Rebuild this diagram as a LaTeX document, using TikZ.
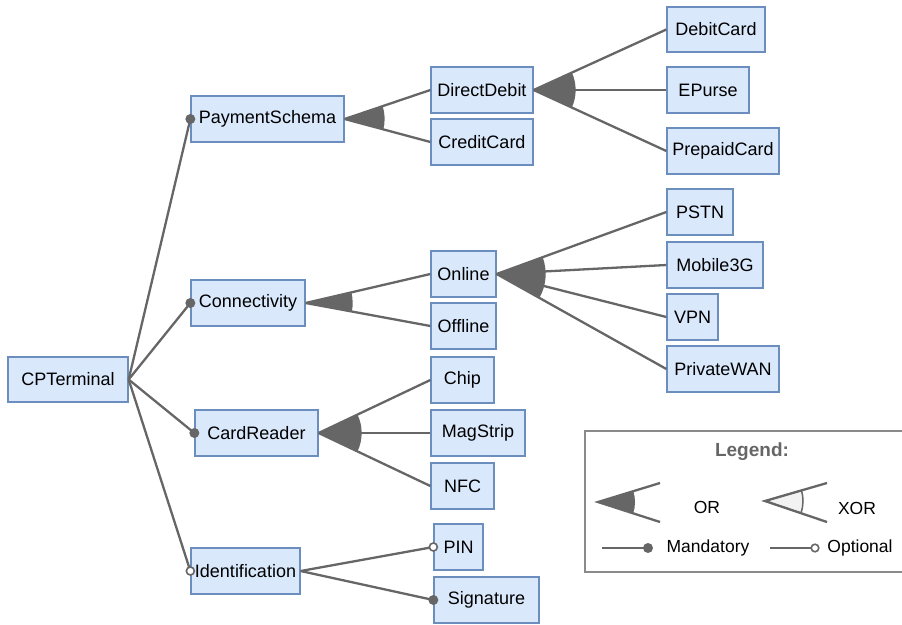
\documentclass[tikz,border=0pt]{standalone}
\usepackage{fontspec}
\setmainfont{Liberation Sans}
\usetikzlibrary{calc}
\definecolor{featfill}{HTML}{DAE8FC}
\definecolor{featline}{HTML}{6C8EBF}
\definecolor{linegray}{HTML}{666666}
\definecolor{legendline}{HTML}{8A8A8A}
\definecolor{xorfill}{HTML}{F2F2F2}

% filled OR sector between the edges towards two child nodes
\newcommand\orsector[4]{%
  \fill[linegray] let \p1=(#1), \p2=(#2), \p3=(#3),
    \n1={atan2(\y2-\y1,\x2-\x1)}, \n2={atan2(\y3-\y1,\x3-\x1)} in
    (\p1) -- ++(\n1:#4) arc[start angle=\n1, end angle=\n2, radius=#4] -- cycle;}

\begin{document}
\begin{tikzpicture}[x=1pt,y=-1pt,
  feat/.style={draw=featline, fill=featfill, line width=1.3pt, inner sep=0pt,
    minimum height=46pt, font=\fontsize{18}{20}\selectfont, text=black},
  conn/.style={draw=linegray, line width=2.3pt},
  mand/.style={fill=linegray},
  opt/.style={draw=linegray, fill=white, line width=1.6pt},
  lbl/.style={font=\fontsize{17.5}{20}\selectfont, text=black, inner sep=0pt}]
\useasboundingbox (0,0) rectangle (902,624);

% features
\node[feat, minimum width=120pt, minimum height=45pt] (cpt) at (68,379.5) {CPTerminal};
\node[feat, minimum width=153pt] (ps) at (267.5,119) {PaymentSchema};
\node[feat, minimum width=114pt] (con) at (248,303) {Connectivity};
\node[feat, minimum width=123pt] (cr) at (256.5,433) {CardReader};
\node[feat, minimum width=109pt] (idf) at (245.5,571) {Identification};
\node[feat, minimum width=102pt] (dd) at (482,90) {DirectDebit};
\node[feat, minimum width=102pt] (cc) at (482,142) {CreditCard};
\node[feat, minimum width=65pt] (onl) at (463.5,274) {Online};
\node[feat, minimum width=65pt] (offl) at (463.5,326) {Offline};
\node[feat, minimum width=63pt] (chip) at (462.5,380) {Chip};
\node[feat, minimum width=94pt] (mag) at (478,433) {MagStrip};
\node[feat, minimum width=63pt] (nfc) at (462.5,486) {NFC};
\node[feat, minimum width=49pt] (pin) at (458.5,547) {PIN};
\node[feat, minimum width=105pt] (sig) at (486.5,600) {Signature};
\node[feat, minimum width=98pt, minimum height=45pt] (debit) at (716,29.5) {DebitCard};
\node[feat, minimum width=82pt] (epurse) at (708,90) {EPurse};
\node[feat, minimum width=112pt] (prep) at (723,151) {PrepaidCard};
\node[feat, minimum width=66pt] (pstn) at (700,212) {PSTN};
\node[feat, minimum width=96pt] (mob) at (715,265) {Mobile3G};
\node[feat, minimum width=51pt] (vpn) at (692.5,317) {VPN};
\node[feat, minimum width=112pt] (pwan) at (723,369) {PrivateWAN};

% OR groups
\orsector{ps.east}{dd.west}{cc.west}{40pt}
\orsector{dd.east}{debit.west}{prep.west}{42pt}
\orsector{con.east}{onl.west}{offl.west}{47pt}
\orsector{onl.east}{pstn.west}{pwan.west}{49pt}
\orsector{cr.east}{chip.west}{nfc.west}{43pt}

% edges
\draw[conn] (cpt.east) -- (ps.west);
\draw[conn] (cpt.east) -- (con.west);
\draw[conn] (cpt.east) -- (cr.west);
\draw[conn] (cpt.east) -- (idf.west);
\draw[conn] (ps.east) -- (dd.west);
\draw[conn] (ps.east) -- (cc.west);
\draw[conn] (dd.east) -- (debit.west);
\draw[conn] (dd.east) -- (epurse.west);
\draw[conn] (dd.east) -- (prep.west);
\draw[conn] (con.east) -- (onl.west);
\draw[conn] (con.east) -- (offl.west);
\draw[conn] (onl.east) -- (pstn.west);
\draw[conn] (onl.east) -- (mob.west);
\draw[conn] (onl.east) -- (vpn.west);
\draw[conn] (onl.east) -- (pwan.west);
\draw[conn] (cr.east) -- (chip.west);
\draw[conn] (cr.east) -- (mag.west);
\draw[conn] (cr.east) -- (nfc.west);
\draw[conn] (idf.east) -- (pin.west);
\draw[conn] (idf.east) -- (sig.west);

% mandatory / optional markers
\fill[mand] (ps.west) circle[radius=5pt];
\fill[mand] (con.west) circle[radius=5pt];
\fill[mand] (cr.west) circle[radius=5pt];
\fill[mand] (sig.west) circle[radius=5pt];
\draw[opt] (idf.west) circle[radius=4pt];
\draw[opt] (pin.west) circle[radius=4pt];

% legend
\draw[legendline, line width=2.6pt] (585,431) rectangle (906,572);
\node[font=\bfseries\fontsize{19}{22}\selectfont, text=linegray] (legtitle) at (752,452) {Legend:};

\coordinate (ortip) at (598,502);
\coordinate (ortop) at (660,483);
\coordinate (orbot) at (660,522);
\orsector{ortip}{ortop}{orbot}{37pt}
\draw[conn] (ortop) -- (ortip) -- (orbot);
\node[lbl] (orlbl) at (707,507) {OR};

\coordinate (xortip) at (765,501);
\coordinate (xortop) at (827,483);
\coordinate (xorbot) at (827,522);
\filldraw[fill=xorfill, draw=linegray, line width=1.5pt]
  let \p1=(xortip), \p2=(xortop), \p3=(xorbot),
    \n1={atan2(\y2-\y1,\x2-\x1)}, \n2={atan2(\y3-\y1,\x3-\x1)} in
    (\p1) -- ++(\n1:38pt) arc[start angle=\n1, end angle=\n2, radius=38pt] -- cycle;
\draw[conn] (xortop) -- (xortip) -- (xorbot);
\node[lbl] (xorlbl) at (857,508) {XOR};

\coordinate (mstart) at (602,548);
\coordinate (mend) at (648,548);
\draw[conn] (mstart) -- (mend);
\fill[mand] (mend) circle[radius=5pt];
\node[lbl] (mandlbl) at (708,548) {Mandatory};

\coordinate (ostart) at (770,548);
\coordinate (oend) at (815,548);
\draw[conn] (ostart) -- (oend);
\draw[opt] (oend) circle[radius=3.8pt];
\node[lbl] (optlbl) at (860,548) {Optional};
\end{tikzpicture}
\end{document}
